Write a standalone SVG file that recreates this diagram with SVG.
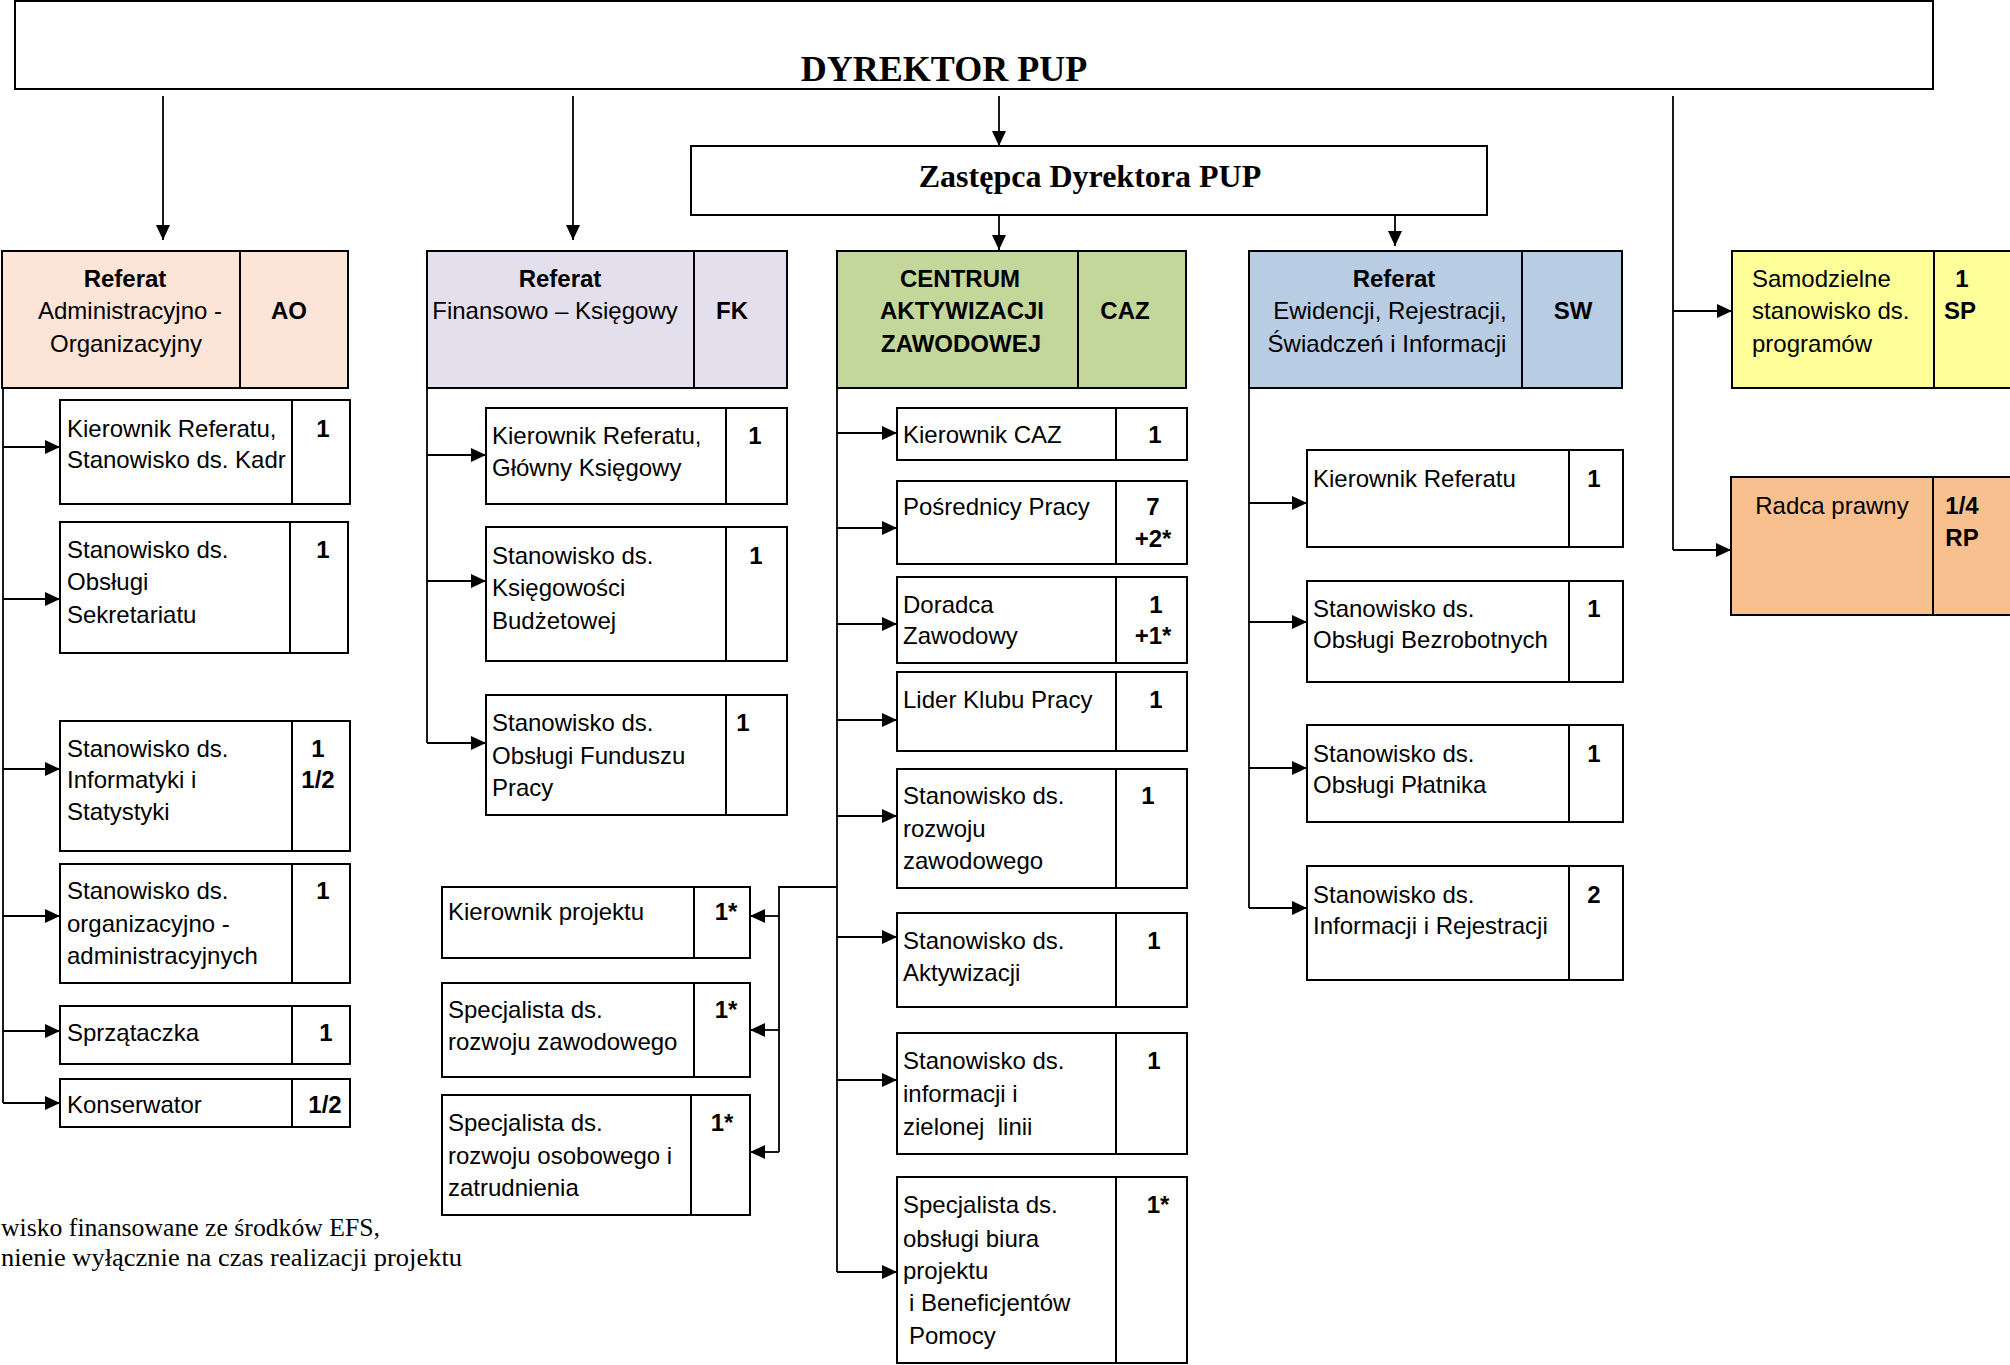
<svg xmlns="http://www.w3.org/2000/svg" width="2010" height="1365" viewBox="0 0 2010 1365">
<defs>
<style>
.bx{fill:#fff;stroke:#000;stroke-width:2}
.dv{stroke:#000;stroke-width:2}
.t{font-family:"Liberation Sans",Arial,sans-serif;font-size:24px;fill:#000}
.m{text-anchor:middle}
.b{font-weight:bold}
.sr{font-family:"Liberation Serif","Times New Roman",serif;fill:#000}
.c{stroke:#000;stroke-width:1.8;fill:none}
.a{marker-end:url(#ah)}
</style>
<marker id="ah" markerUnits="userSpaceOnUse" markerWidth="16" markerHeight="14" refX="15" refY="7" orient="auto"><path d="M0,0 L15,7 L0,14 z" fill="#000"/></marker>
</defs>
<rect width="2010" height="1365" fill="#fff"/>

<g id="connectors">
<line class="c a" x1="163" y1="96" x2="163" y2="240"/>
<line class="c a" x1="573" y1="96" x2="573" y2="240"/>
<line class="c a" x1="999" y1="96" x2="999" y2="146"/>
<line class="c a" x1="999" y1="215" x2="999" y2="250"/>
<line class="c a" x1="1395" y1="215" x2="1395" y2="246"/>
<polyline class="c" points="1673,96 1673,550"/>
<line class="c a" x1="1673" y1="311" x2="1732" y2="311"/>
<line class="c a" x1="1673" y1="550" x2="1731" y2="550"/>
<!-- AO -->
<polyline class="c" points="3,388 3,1103"/>
<line class="c a" x1="3" y1="447" x2="60" y2="447"/>
<line class="c a" x1="3" y1="599" x2="60" y2="599"/>
<line class="c a" x1="3" y1="769" x2="60" y2="769"/>
<line class="c a" x1="3" y1="916" x2="60" y2="916"/>
<line class="c a" x1="3" y1="1031" x2="60" y2="1031"/>
<line class="c a" x1="3" y1="1103" x2="60" y2="1103"/>
<!-- FK -->
<polyline class="c" points="427,388 427,743"/>
<line class="c a" x1="427" y1="455" x2="486" y2="455"/>
<line class="c a" x1="427" y1="581" x2="486" y2="581"/>
<line class="c a" x1="427" y1="743" x2="486" y2="743"/>
<!-- CAZ -->
<polyline class="c" points="837,388 837,1272"/>
<line class="c a" x1="837" y1="433" x2="897" y2="433"/>
<line class="c a" x1="837" y1="528" x2="897" y2="528"/>
<line class="c a" x1="837" y1="624" x2="897" y2="624"/>
<line class="c a" x1="837" y1="720" x2="897" y2="720"/>
<line class="c a" x1="837" y1="816" x2="897" y2="816"/>
<line class="c a" x1="837" y1="937" x2="897" y2="937"/>
<line class="c a" x1="837" y1="1080" x2="897" y2="1080"/>
<line class="c a" x1="837" y1="1272" x2="897" y2="1272"/>
<!-- project -->
<polyline class="c" points="837,887 779,887 779,1152"/>
<line class="c a" x1="779" y1="916" x2="750" y2="916"/>
<line class="c a" x1="779" y1="1030" x2="750" y2="1030"/>
<line class="c a" x1="779" y1="1152" x2="750" y2="1152"/>
<!-- SW -->
<polyline class="c" points="1249,388 1249,908"/>
<line class="c a" x1="1249" y1="503" x2="1307" y2="503"/>
<line class="c a" x1="1249" y1="622" x2="1307" y2="622"/>
<line class="c a" x1="1249" y1="768" x2="1307" y2="768"/>
<line class="c a" x1="1249" y1="908" x2="1307" y2="908"/>
</g>

<g id="dyrektor">
<rect class="bx" x="15" y="1" width="1918" height="88"/>
<text class="sr m" x="944" y="81" font-size="36" font-weight="bold">DYREKTOR PUP</text>
</g>
<g id="zastepca">
<rect class="bx" x="691" y="146" width="796" height="69"/>
<text class="sr m" x="1090" y="187" font-size="32" font-weight="bold">Zastępca Dyrektora PUP</text>
</g>

<g id="ao">
<rect class="bx" x="2" y="251" width="346" height="137" style="fill:#FCE4D6"/>
<line class="dv" x1="240" y1="251" x2="240" y2="388"/>
<text class="t m b" x="125" y="287">Referat</text>
<text class="t m" x="130" y="319">Administracyjno -</text>
<text class="t m" x="126" y="352">Organizacyjny</text>
<text class="t m b" x="289" y="319">AO</text>
</g>
<g id="fk">
<rect class="bx" x="427" y="251" width="360" height="137" style="fill:#E4DFEC"/>
<line class="dv" x1="694" y1="251" x2="694" y2="388"/>
<text class="t m b" x="560" y="287">Referat</text>
<text class="t m" x="555" y="319">Finansowo – Księgowy</text>
<text class="t m b" x="732" y="319">FK</text>
</g>
<g id="caz">
<rect class="bx" x="837" y="251" width="349" height="137" style="fill:#C4D79B"/>
<line class="dv" x1="1078" y1="251" x2="1078" y2="388"/>
<text class="t m b" x="960" y="287">CENTRUM</text>
<text class="t m b" x="962" y="319">AKTYWIZACJI</text>
<text class="t m b" x="961" y="352">ZAWODOWEJ</text>
<text class="t m b" x="1125" y="319">CAZ</text>
</g>
<g id="sw">
<rect class="bx" x="1249" y="251" width="373" height="137" style="fill:#B8CCE4"/>
<line class="dv" x1="1522" y1="251" x2="1522" y2="388"/>
<text class="t m b" x="1394" y="287">Referat</text>
<text class="t m" x="1390" y="319">Ewidencji, Rejestracji,</text>
<text class="t m" x="1387" y="352">Świadczeń i Informacji</text>
<text class="t m b" x="1573" y="319">SW</text>
</g>
<g id="sp">
<rect class="bx" x="1732" y="251" width="290" height="137" style="fill:#FFFF99"/>
<line class="dv" x1="1934" y1="251" x2="1934" y2="388"/>
<text class="t" x="1752" y="287">Samodzielne</text>
<text class="t" x="1752" y="319">stanowisko ds.</text>
<text class="t" x="1752" y="352">programów</text>
<text class="t m b" x="1962" y="287">1</text>
<text class="t m b" x="1960" y="319">SP</text>
</g>
<g id="rp">
<rect class="bx" x="1731" y="477" width="291" height="138" style="fill:#F8BF8F"/>
<line class="dv" x1="1933" y1="477" x2="1933" y2="615"/>
<text class="t m" x="1832" y="514">Radca prawny</text>
<text class="t m b" x="1962" y="514">1/4</text>
<text class="t m b" x="1962" y="546">RP</text>
</g>

<!-- AO children -->
<g id="ao1"><rect class="bx" x="60" y="400" width="290" height="104"/><line class="dv" x1="292" y1="400" x2="292" y2="504"/>
<text class="t" x="67" y="437">Kierownik Referatu,</text><text class="t" x="67" y="468">Stanowisko ds. Kadr</text><text class="t m b" x="323" y="437">1</text></g>
<g id="ao2"><rect class="bx" x="60" y="522" width="288" height="131"/><line class="dv" x1="290" y1="522" x2="290" y2="653"/>
<text class="t" x="67" y="558">Stanowisko ds.</text><text class="t" x="67" y="590">Obsługi</text><text class="t" x="67" y="623">Sekretariatu</text><text class="t m b" x="323" y="558">1</text></g>
<g id="ao3"><rect class="bx" x="60" y="721" width="290" height="130"/><line class="dv" x1="292" y1="721" x2="292" y2="851"/>
<text class="t" x="67" y="757">Stanowisko ds.</text><text class="t" x="67" y="788">Informatyki i</text><text class="t" x="67" y="820">Statystyki</text><text class="t m b" x="318" y="757">1</text><text class="t m b" x="318" y="788">1/2</text></g>
<g id="ao4"><rect class="bx" x="60" y="864" width="290" height="119"/><line class="dv" x1="292" y1="864" x2="292" y2="983"/>
<text class="t" x="67" y="899">Stanowisko ds.</text><text class="t" x="67" y="932">organizacyjno -</text><text class="t" x="67" y="964">administracyjnych</text><text class="t m b" x="323" y="899">1</text></g>
<g id="ao5"><rect class="bx" x="60" y="1006" width="290" height="58"/><line class="dv" x1="292" y1="1006" x2="292" y2="1064"/>
<text class="t" x="67" y="1041">Sprzątaczka</text><text class="t m b" x="326" y="1041">1</text></g>
<g id="ao6"><rect class="bx" x="60" y="1079" width="290" height="48"/><line class="dv" x1="292" y1="1079" x2="292" y2="1127"/>
<text class="t" x="67" y="1113">Konserwator</text><text class="t m b" x="325" y="1113">1/2</text></g>

<!-- FK children -->
<g id="fk1"><rect class="bx" x="486" y="408" width="301" height="96"/><line class="dv" x1="726" y1="408" x2="726" y2="504"/>
<text class="t" x="492" y="444">Kierownik Referatu,</text><text class="t" x="492" y="476">Główny Księgowy</text><text class="t m b" x="755" y="444">1</text></g>
<g id="fk2"><rect class="bx" x="486" y="527" width="301" height="134"/><line class="dv" x1="726" y1="527" x2="726" y2="661"/>
<text class="t" x="492" y="564">Stanowisko ds.</text><text class="t" x="492" y="596">Księgowości</text><text class="t" x="492" y="629">Budżetowej</text><text class="t m b" x="756" y="564">1</text></g>
<g id="fk3"><rect class="bx" x="486" y="695" width="301" height="120"/><line class="dv" x1="726" y1="695" x2="726" y2="815"/>
<text class="t" x="492" y="731">Stanowisko ds.</text><text class="t" x="492" y="764">Obsługi Funduszu</text><text class="t" x="492" y="796">Pracy</text><text class="t m b" x="743" y="731">1</text></g>

<!-- project -->
<g id="kp"><rect class="bx" x="442" y="887" width="308" height="71"/><line class="dv" x1="694" y1="887" x2="694" y2="958"/>
<text class="t" x="448" y="920">Kierownik projektu</text><text class="t m b" x="726" y="920">1*</text></g>
<g id="srz"><rect class="bx" x="442" y="983" width="308" height="94"/><line class="dv" x1="694" y1="983" x2="694" y2="1077"/>
<text class="t" x="448" y="1018">Specjalista ds.</text><text class="t" x="448" y="1050">rozwoju zawodowego</text><text class="t m b" x="726" y="1018">1*</text></g>
<g id="sroz"><rect class="bx" x="442" y="1095" width="308" height="120"/><line class="dv" x1="691" y1="1095" x2="691" y2="1215"/>
<text class="t" x="448" y="1131">Specjalista ds.</text><text class="t" x="448" y="1164">rozwoju osobowego i</text><text class="t" x="448" y="1196">zatrudnienia</text><text class="t m b" x="722" y="1131">1*</text></g>

<!-- CAZ children -->
<g id="caz1"><rect class="bx" x="897" y="408" width="290" height="52"/><line class="dv" x1="1116" y1="408" x2="1116" y2="460"/>
<text class="t" x="903" y="443">Kierownik CAZ</text><text class="t m b" x="1155" y="443">1</text></g>
<g id="caz2"><rect class="bx" x="897" y="481" width="290" height="83"/><line class="dv" x1="1116" y1="481" x2="1116" y2="564"/>
<text class="t" x="903" y="515">Pośrednicy Pracy</text><text class="t m b" x="1153" y="515">7</text><text class="t m b" x="1153" y="547">+2*</text></g>
<g id="caz3"><rect class="bx" x="897" y="577" width="290" height="86"/><line class="dv" x1="1116" y1="577" x2="1116" y2="663"/>
<text class="t" x="903" y="613">Doradca</text><text class="t" x="903" y="644">Zawodowy</text><text class="t m b" x="1156" y="613">1</text><text class="t m b" x="1153" y="644">+1*</text></g>
<g id="caz4"><rect class="bx" x="897" y="672" width="290" height="79"/><line class="dv" x1="1116" y1="672" x2="1116" y2="751"/>
<text class="t" x="903" y="708">Lider Klubu Pracy</text><text class="t m b" x="1156" y="708">1</text></g>
<g id="caz5"><rect class="bx" x="897" y="769" width="290" height="119"/><line class="dv" x1="1116" y1="769" x2="1116" y2="888"/>
<text class="t" x="903" y="804">Stanowisko ds.</text><text class="t" x="903" y="837">rozwoju</text><text class="t" x="903" y="869">zawodowego</text><text class="t m b" x="1148" y="804">1</text></g>
<g id="caz6"><rect class="bx" x="897" y="913" width="290" height="94"/><line class="dv" x1="1116" y1="913" x2="1116" y2="1007"/>
<text class="t" x="903" y="949">Stanowisko ds.</text><text class="t" x="903" y="981">Aktywizacji</text><text class="t m b" x="1154" y="949">1</text></g>
<g id="caz7"><rect class="bx" x="897" y="1033" width="290" height="121"/><line class="dv" x1="1116" y1="1033" x2="1116" y2="1154"/>
<text class="t" x="903" y="1069">Stanowisko ds.</text><text class="t" x="903" y="1102">informacji i</text><text class="t" x="903" y="1135" xml:space="preserve">zielonej  linii</text><text class="t m b" x="1154" y="1069">1</text></g>
<g id="caz8"><rect class="bx" x="897" y="1177" width="290" height="186"/><line class="dv" x1="1116" y1="1177" x2="1116" y2="1363"/>
<text class="t" x="903" y="1213">Specjalista ds.</text><text class="t" x="903" y="1247">obsługi biura</text><text class="t" x="903" y="1279">projektu</text><text class="t" x="909" y="1311">i Beneficjentów</text><text class="t" x="909" y="1344">Pomocy</text><text class="t m b" x="1158" y="1213">1*</text></g>

<!-- SW children -->
<g id="sw1"><rect class="bx" x="1307" y="450" width="316" height="97"/><line class="dv" x1="1569" y1="450" x2="1569" y2="547"/>
<text class="t" x="1313" y="487">Kierownik Referatu</text><text class="t m b" x="1594" y="487">1</text></g>
<g id="sw2"><rect class="bx" x="1307" y="581" width="316" height="101"/><line class="dv" x1="1569" y1="581" x2="1569" y2="682"/>
<text class="t" x="1313" y="617">Stanowisko ds.</text><text class="t" x="1313" y="648">Obsługi Bezrobotnych</text><text class="t m b" x="1594" y="617">1</text></g>
<g id="sw3"><rect class="bx" x="1307" y="725" width="316" height="97"/><line class="dv" x1="1569" y1="725" x2="1569" y2="822"/>
<text class="t" x="1313" y="762">Stanowisko ds.</text><text class="t" x="1313" y="793">Obsługi Płatnika</text><text class="t m b" x="1594" y="762">1</text></g>
<g id="sw4"><rect class="bx" x="1307" y="866" width="316" height="114"/><line class="dv" x1="1569" y1="866" x2="1569" y2="980"/>
<text class="t" x="1313" y="903">Stanowisko ds.</text><text class="t" x="1313" y="934">Informacji i Rejestracji</text><text class="t m b" x="1594" y="903">2</text></g>

<g id="footnote">
<text class="sr" x="1" y="1236" font-size="26" textLength="379" lengthAdjust="spacingAndGlyphs">wisko finansowane ze środków EFS,</text>
<text class="sr" x="1" y="1266" font-size="26" textLength="461" lengthAdjust="spacingAndGlyphs">nienie wyłącznie na czas realizacji projektu</text>
</g>
</svg>
